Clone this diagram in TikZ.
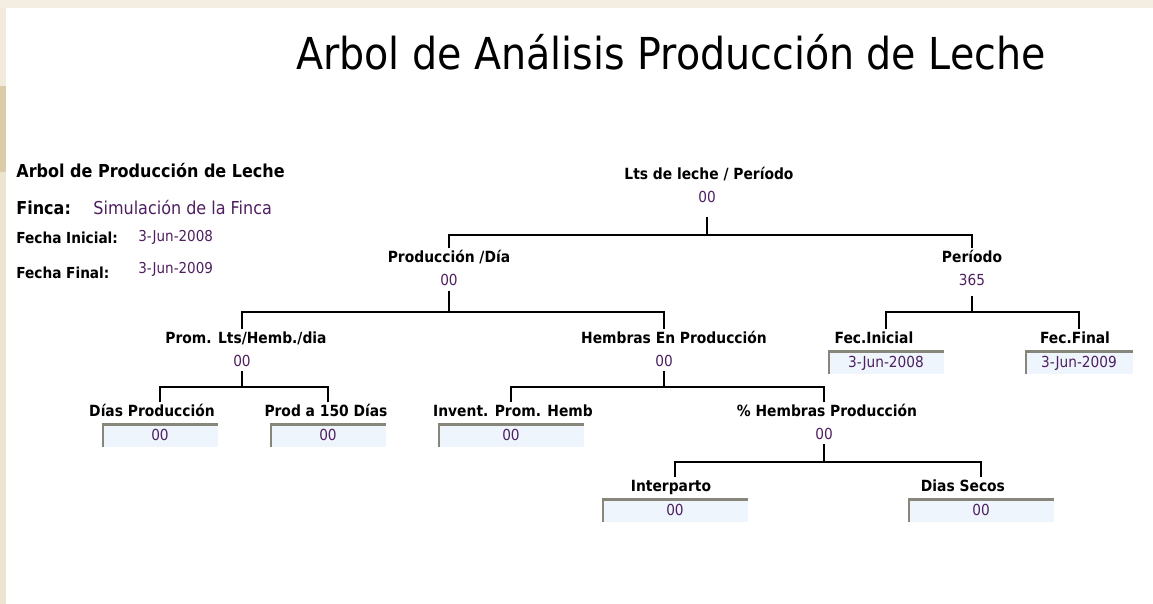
\documentclass[tikz,border=0pt]{standalone}
\usepackage{fontspec}
\setmainfont{DejaVu Sans Condensed}
\usetikzlibrary{positioning}

\definecolor{valtext}{HTML}{4E2060}
\definecolor{boxfill}{HTML}{EEF5FC}
\definecolor{boxedge}{HTML}{86867A}
\definecolor{bandtop}{HTML}{F4EDE2}
\definecolor{stripa}{HTML}{F2EADB}
\definecolor{stripb}{HTML}{D9CCA6}
\definecolor{stripc}{HTML}{EDE4CF}

\tikzset{
  lbl/.style={font=\bfseries\fontsize{7.7}{9}\selectfont, inner sep=1pt,
    text height=5.8pt, text depth=1.7pt},
  val/.style={text=valtext, font=\fontsize{7.6}{9}\selectfont, inner sep=1pt,
    text height=5.5pt, text depth=0pt},
  valbox/.style={val, fill=boxfill, minimum height=11.5pt, inner sep=0pt,
    minimum width=#1,
    path picture={\draw[boxedge, line width=2pt]
      (path picture bounding box.south west) |- (path picture bounding box.north east);}},
  info/.style={anchor=west, inner sep=0pt, font=\bfseries\fontsize{8.9}{10}\selectfont},
  infosmall/.style={anchor=west, inner sep=0pt, font=\bfseries\fontsize{7.6}{9}\selectfont},
  infoval/.style={anchor=west, inner sep=0pt, text=valtext, font=\fontsize{7.5}{9}\selectfont},
  link/.style={line width=1.3pt, shorten <=#1},
  link/.default=0pt
}

\begin{document}
\begin{tikzpicture}[x=0.5pt, y=-0.5pt]

% page background
\fill[white] (0,0) rectangle (1153,604);
\fill[bandtop] (0,0) rectangle (1153,8);
\fill[stripa] (0,8) rectangle (6,86);
\fill[stripb] (0,86) rectangle (6,172);
\fill[stripc] (0,172) rectangle (6,604);
\useasboundingbox (0,0) rectangle (1153,604);

\node (title) at (671,52) [font=\fontsize{22}{26}\selectfont] {Arbol de Análisis Producción de Leche};

% datos de la finca
\node (head) at (16,171) [info] {Arbol de Producción de Leche};
\node (finca) at (16,208) [info] {Finca:};
\node (fincaval) at (93,208) [infoval, font=\fontsize{8.9}{10}\selectfont] {Simulación de la Finca};
\node (fechaini) at (16,238) [infosmall] {Fecha Inicial:};
\node (fechainival) at (138,237) [infoval] {3-Jun-2008};
\node (fechafin) at (16,273) [infosmall] {Fecha Final:};
\node (fechafinval) at (138,269) [infoval] {3-Jun-2009};

% arbol
\node[lbl] (lts) at (709,175) {Lts de leche / Período};
\node[val, below=1.9pt of lts, xshift=-1pt] (ltsval) {00};

\node[lbl] (prod) at (449,258) {Producción /Día};
\node[val, below=1.9pt of prod] (prodval) {00};
\node[lbl] (per) at (972,258) {Período};
\node[val, below=1.9pt of per] (perval) {365};

\node[lbl] (prom) at (246,339) {Prom. Lts/Hemb./dia};
\node[val, below=1.9pt of prom, xshift=-2pt] (promval) {00};
\node[lbl] (hemb) at (674,339) {Hembras En Producción};
\node[val, below=1.9pt of hemb, xshift=-5pt] (hembval) {00};
\node[lbl] (fecini) at (874,339) {Fec.Inicial};
\node[valbox=58pt, below=0.8pt of fecini, xshift=6pt] (feciniv) {3-Jun-2008};
\node[lbl] (fecfin) at (1075,339) {Fec.Final};
\node[valbox=54pt, below=0.8pt of fecfin, xshift=2pt] (fecfinv) {3-Jun-2009};

\node[lbl] (dias) at (152,412) {Días Producción};
\node[valbox=58pt, below=0.8pt of dias, xshift=4pt] (diasv) {00};
\node[lbl] (p150) at (326,412) {Prod a 150 Días};
\node[valbox=58pt, below=0.8pt of p150, xshift=1pt] (p150v) {00};
\node[lbl] (invent) at (513,412) {Invent. Prom. Hemb};
\node[valbox=73pt, below=0.8pt of invent, xshift=-1pt] (inventv) {00};
\node[lbl] (porc) at (827,412) {\% Hembras Producción};
\node[val, below=1.9pt of porc, xshift=-1.5pt] (porcval) {00};

\node[lbl] (inter) at (671,487) {Interparto};
\node[valbox=73pt, below=0.8pt of inter, xshift=2pt] (interv) {00};
\node[lbl] (secos) at (963,487) {Dias Secos};
\node[valbox=73pt, below=0.8pt of secos, xshift=9pt] (secosv) {00};

% ramas
\coordinate (j0) at (708,235);
\coordinate (j1) at (449,312);
\coordinate (j2) at (972,312);
\coordinate (j3) at (244,387);
\coordinate (j4) at (664,387);
\coordinate (j5) at (824,462);

\draw[link=6.5pt] (ltsval.south) -- (ltsval.south |- j0);
\draw[link] (prod.north -| prodval) |- (j0) -| (per.north -| perval);
\draw[link=2pt] (prodval.south) -- (prodval.south |- j1);
\draw[link] (prom.north -| promval) |- (j1) -| (hemb.north -| hembval);
\draw[link=4.5pt] (perval.south) -- (perval.south |- j2);
\draw[link] (fecini.north -| feciniv) |- (j2) -| (fecfin.north -| fecfinv);
\draw[link=1.5pt] (promval.south) -- (promval.south |- j3);
\draw[link] (dias.north -| diasv) |- (j3) -| (p150.north -| p150v);
\draw[link=1.5pt] (hembval.south) -- (hembval.south |- j4);
\draw[link] (invent.north -| inventv) |- (j4) -| (porc.north -| porcval);
\draw[link=1.5pt] (porcval.south) -- (porcval.south |- j5);
\draw[link] (inter.north -| interv) |- (j5) -| (secos.north -| secosv);

\end{tikzpicture}
\end{document}
